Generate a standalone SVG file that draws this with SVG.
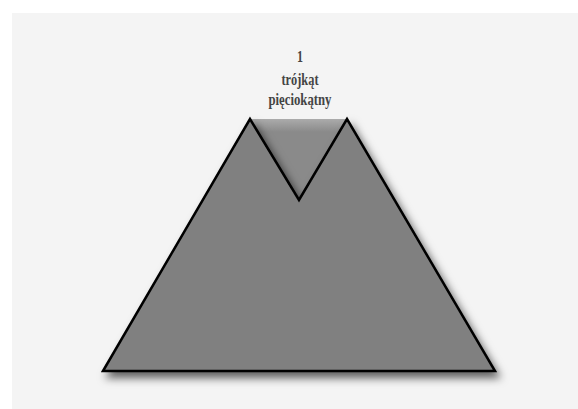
<svg xmlns="http://www.w3.org/2000/svg" width="578" height="409" viewBox="0 0 578 409">
  <style>
    .lbl { font-family: "Liberation Serif", "DejaVu Serif", serif; font-weight: bold; font-size: 16px; fill: #444; text-anchor: middle; }
    .shape { fill: #808080; stroke: #000; stroke-width: 2.5; stroke-linejoin: miter; }
  </style>
  <defs>
    <filter id="shadow" x="-10%" y="-10%" width="130%" height="130%">
      <feDropShadow dx="4" dy="6" stdDeviation="4.5" flood-color="#000" flood-opacity="0.6"/>
    </filter>
    <linearGradient id="notchFill" x1="0" y1="117" x2="0" y2="132" gradientUnits="userSpaceOnUse">
      <stop offset="0" stop-color="#b0b0b0"/>
      <stop offset="1" stop-color="#8a8a8a"/>
    </linearGradient>
  </defs>
  <rect x="0" y="0" width="578" height="409" fill="#ffffff"/>
  <rect x="12" y="13" width="566" height="396" fill="#f4f4f4"/>
  <g id="node-shape">
    <polygon points="250,119 347,119 299,200" fill="url(#notchFill)"/>
    <polygon class="shape" filter="url(#shadow)" points="103,371 250,119 299,200 347,119 495,371"/>
  </g>
  <g id="node-label">
    <text class="lbl" x="300" y="62" textLength="6" lengthAdjust="spacingAndGlyphs">1</text>
    <text class="lbl" x="300" y="85" textLength="37" lengthAdjust="spacingAndGlyphs">trójkąt</text>
    <text class="lbl" x="300" y="105" textLength="63" lengthAdjust="spacingAndGlyphs">pięciokątny</text>
  </g>
  <g id="connectors"/>
</svg>
